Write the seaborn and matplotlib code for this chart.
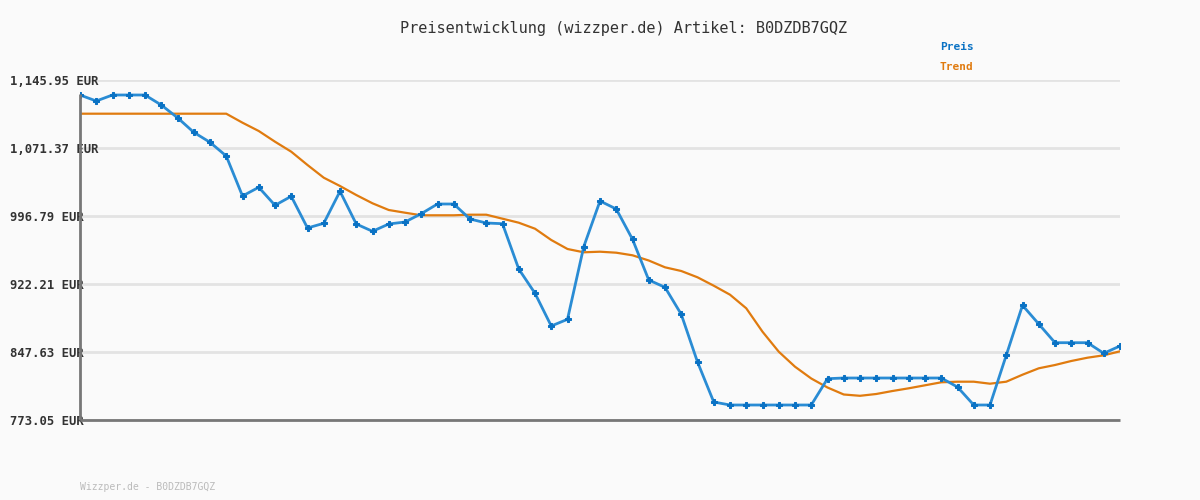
import matplotlib
matplotlib.use("Agg")
import matplotlib.pyplot as plt
import seaborn as sns
import pandas as pd

# price history (EUR), 65 samples
preis = [1129.50, 1122.92, 1129.50, 1129.50, 1129.50, 1118.53, 1104.60, 1088.59,
         1077.62, 1062.59, 1018.72, 1028.27, 1008.52, 1018.40, 983.63, 988.78,
         1023.88, 988.01, 980.01, 988.01, 990.21, 999.31, 1009.95, 1009.95,
         993.50, 989.11, 988.34, 938.66, 912.01, 876.15, 883.49, 963.12,
         1013.24, 1004.47, 971.23, 926.60, 918.59, 888.98, 836.66, 792.79,
         789.50, 789.50, 789.50, 789.50, 789.50, 789.50, 818.35, 819.11,
         819.11, 819.11, 819.11, 819.11, 819.11, 819.11, 809.24, 789.50,
         789.50, 844.01, 898.85, 878.34, 857.83, 857.83, 857.83, 846.20,
         854.21]

trend = [1108.99, 1108.99, 1108.99, 1108.99, 1108.99, 1108.99, 1108.99, 1108.99,
         1108.99, 1108.99, 1099.12, 1090.01, 1078.28, 1067.31, 1052.72, 1038.80,
         1029.69, 1019.82, 1010.72, 1003.37, 1000.41, 997.56, 997.56, 997.56,
         998.22, 998.22, 993.83, 989.44, 982.86, 970.47, 960.60, 956.98,
         957.63, 956.54, 953.69, 947.98, 940.52, 936.47, 929.56, 920.34,
         910.47, 895.56, 869.89, 847.96, 831.51, 818.57, 808.69, 801.02,
         799.59, 801.57, 804.86, 807.82, 811.11, 814.40, 815.06, 815.06,
         812.86, 815.06, 822.73, 829.75, 833.37, 837.76, 841.38, 844.01,
         848.40]

yticks = [773.05, 847.63, 922.21, 996.79, 1071.37, 1145.95]
ytick_labels = ["773.05 EUR", "847.63 EUR", "922.21 EUR", "996.79 EUR",
                "1,071.37 EUR", "1,145.95 EUR"]

artikel = "B0DZDB7GQZ"

df = pd.DataFrame({"idx": range(len(preis)), "preis": preis, "trend": trend})

sns.set_style("white")
plt.rcParams["font.family"] = ["DejaVu Sans Mono", "DejaVu Sans"]

bg = "#fafafa"
fig = plt.figure(figsize=(12, 5), dpi=100, facecolor=bg)
ax = fig.add_axes([80 / 1200, 80 / 500, 1040 / 1200, 340 / 500])
ax.set_facecolor(bg)

sns.lineplot(data=df, x="idx", y="trend", ax=ax, color="#e07b0f", linewidth=1.6)
sns.lineplot(data=df, x="idx", y="preis", ax=ax, color="#2a8cd4", linewidth=2,
             marker="P", markersize=5, markerfacecolor="#0a72c4",
             markeredgecolor="#0a72c4")

ax.set_xlim(0, len(preis) - 1)
ax.set_ylim(yticks[0], yticks[-1])
ax.set_xticks([])
ax.set_yticks(yticks)
ax.set_yticklabels(ytick_labels, fontsize=8.8, fontweight="bold",
                   color="#333333", ha="left")
# labels start at x = 10 px
ax.tick_params(axis="y", length=0, pad=70 * 0.72)
ax.yaxis.grid(True, color="#e3e3e3", linewidth=2)
ax.set_axisbelow(True)
ax.set_xlabel("")
ax.set_ylabel("")
for s in ["top", "right"]:
    ax.spines[s].set_visible(False)
for s in ["left", "bottom"]:
    ax.spines[s].set_color("#777777")
    ax.spines[s].set_linewidth(2)
    ax.spines[s].set_capstyle("butt")
ax.spines["left"].set_bounds(yticks[0], 1131.0)

fig.text(0.52, 1 - 28 / 500, f"Preisentwicklung (wizzper.de) Artikel: {artikel}",
         ha="center", va="center", fontsize=11, color="#333333")
fig.text(940 / 1200, 1 - 47 / 500, "Preis", ha="left", va="center",
         fontsize=8, fontweight="bold", color="#0a72c4")
fig.text(940 / 1200, 1 - 67 / 500, "Trend", ha="left", va="center",
         fontsize=8, fontweight="bold", color="#e07b0f")
fig.text(80 / 1200, 1 - 487 / 500, f"Wizzper.de - {artikel}", ha="left",
         va="center", fontsize=7, color="#bbbbbb")

fig.savefig("out.png", dpi=100, facecolor=bg)
